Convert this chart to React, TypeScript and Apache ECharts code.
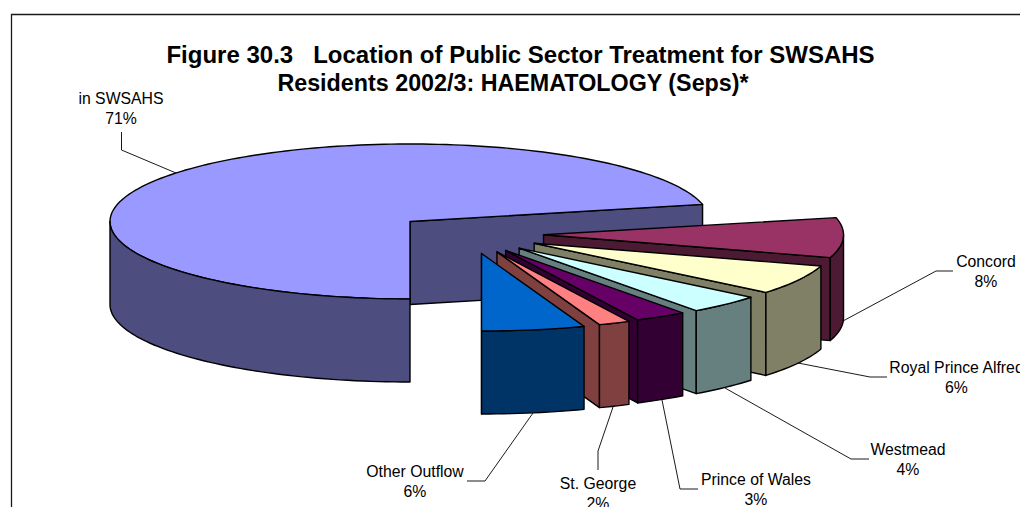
import React, { useEffect, useRef } from "react";
import * as echarts from "echarts";

const titleLines = [
  "Figure 30.3   Location of Public Sector Treatment for SWSAHS",
  "Residents 2002/3: HAEMATOLOGY (Seps)*",
];
const categories = ["in SWSAHS", "Concord", "Royal Prince Alfred", "Westmead", "Prince of Wales", "St. George", "Other Outflow"];
const shares = [71.45, 8.3, 6.2, 4.0, 2.8, 1.7, 5.55];
const percentLabels = ["71%", "8%", "6%", "4%", "3%", "2%", "6%"];
const topColors = ["#9999FF", "#993366", "#FFFFCC", "#CCFFFF", "#660066", "#FF8080", "#0066CC"];
const wallColors = ["#4D4D80", "#4D1A33", "#808066", "#668080", "#330033", "#804040", "#003366"];
const explosion = [0, 0.477, 0.5, 0.5, 0.49, 0.487, 0.477];

// label layout: centre x, first line y, and the leader polyline
const labelLayout = [
  { x: 121, y: 98, line: [[121.5, 132], [121.5, 150], [176, 173]] },
  { x: 986, y: 261, line: [[843, 321], [936, 271], [953, 271]] },
  { x: 956.5, y: 367, line: [[798, 363], [870, 377], [887, 377]] },
  { x: 908, y: 449, line: [[725, 388], [851, 459], [869, 459]] },
  { x: 756, y: 479, line: [[662, 400], [680, 489], [698, 489]] },
  { x: 598, y: 483, line: [[613, 407], [598, 451], [598, 470]] },
  { x: 415, y: 471, line: [[533, 413], [485, 481], [467, 481]] },
];

const titleLayout = [
  { x: 520.5, y: 54, size: 24 },
  { x: 513, y: 83, size: 23.3 },
];

const CX = 410, CY = 221.5, RX = 300, RY = 77.5, DEPTH = 83;
const START_T = 180; // main slice starts at the front and runs clockwise

const rad = (d: number) => (d * Math.PI) / 180;
const px = (t: number) => RX * Math.sin(rad(t));
const py = (t: number) => -RY * Math.cos(rad(t));

function arc(ox: number, oy: number, a: number, b: number, dz = 0) {
  const pts: number[][] = [];
  const n = Math.max(2, Math.ceil(Math.abs(b - a) / 1.5));
  for (let i = 0; i <= n; i++) {
    const t = a + ((b - a) * i) / n;
    pts.push([ox + px(t), oy + py(t) + dz]);
  }
  return pts;
}

export default function App() {
  const ref = useRef<HTMLDivElement>(null);
  useEffect(() => {
    document.body.style.margin = "0";
    document.body.style.overflow = "hidden";
    const chart = echarts.init(ref.current!, null, { renderer: "svg" });
    const total = shares.reduce((a, b) => a + b, 0);
    let acc = START_T;
    const spans = shares.map((v) => {
      const a = acc;
      acc += (v / total) * 360;
      return [a, acc];
    });

    const stroke = { stroke: "#000", lineWidth: 1.4, lineJoin: "round" as const };
    const poly = (points: number[][], fill: string) => ({
      type: "polygon",
      shape: { points },
      style: { fill, ...stroke },
    });

    const renderItem = (params: any, api: any) => {
      const i = params.dataIndex;
      const [a, b] = [api.value(1) as number, api.value(2) as number];
      const top = topColors[i], wall = wallColors[i];
      const children: any[] = [];
      let ox = CX, oy = CY;
      if (i > 0) {
        const mid = (a + b) / 2 - 360;
        const dir = 65 + mid / 2;
        ox += explosion[i] * px(dir);
        oy += explosion[i] * py(dir);
      }
      const e = [ox + px(b), oy + py(b)];
      children.push(poly([[ox, oy], e, [e[0], e[1] + DEPTH], [ox, oy + DEPTH]], wall));
      if (i === 0) {
        children.push(poly([[ox, oy], ...arc(ox, oy, a, b)], top));
        children.push(poly([...arc(ox, oy, a, 270), ...arc(ox, oy, 270, a, DEPTH)], wall));
      } else {
        const from = Math.max(a - 360, 90), to = b - 360;
        if (to > from) {
          children.push(poly([...arc(ox, oy, from, to), ...arc(ox, oy, to, from, DEPTH)], wall));
        }
        children.push(poly([[ox, oy], ...arc(ox, oy, a, b)], top));
      }
      return { type: "group", children };
    };

    const textBase = { fontFamily: "Liberation Sans, Arial, sans-serif", fill: "#000" };
    const graphics: any[] = [
      {
        type: "polyline",
        shape: { points: [[11.5, 507], [11.5, 14.5], [1020, 14.5]] },
        style: { stroke: "#1a1a1a", lineWidth: 1.3, fill: "none" },
        silent: true,
      },
      ...titleLines.map((t, i) => ({
        type: "text",
        x: titleLayout[i].x,
        y: titleLayout[i].y,
        style: { ...textBase, text: t, fontSize: titleLayout[i].size, fontWeight: "bold", textAlign: "center", textVerticalAlign: "middle" },
      })),
      ...labelLayout.map((l) => ({
        type: "polyline",
        shape: { points: l.line },
        style: { stroke: "#000", lineWidth: 0.9, fill: "none" },
        silent: true,
      })),
      ...labelLayout.flatMap((l, i) => [
        { type: "text", x: l.x, y: l.y, style: { ...textBase, text: categories[i], fontSize: 15.8, textAlign: "center", textVerticalAlign: "middle" } },
        { type: "text", x: l.x, y: l.y + 20.7, style: { ...textBase, text: percentLabels[i], fontSize: 15.8, textAlign: "center", textVerticalAlign: "middle" } },
      ]),
    ];

    chart.setOption({
      animation: false,
      backgroundColor: "#fff",
      graphic: graphics,
      series: [
        {
          type: "custom",
          coordinateSystem: "none",
          renderItem,
          silent: true,
          z: 1,
          data: shares.map((v, i) => [v, spans[i][0], spans[i][1]]),
        },
      ],
    });
    return () => chart.dispose();
  }, []);
  return <div ref={ref} style={{ width: 1020, height: 507 }} />;
}
